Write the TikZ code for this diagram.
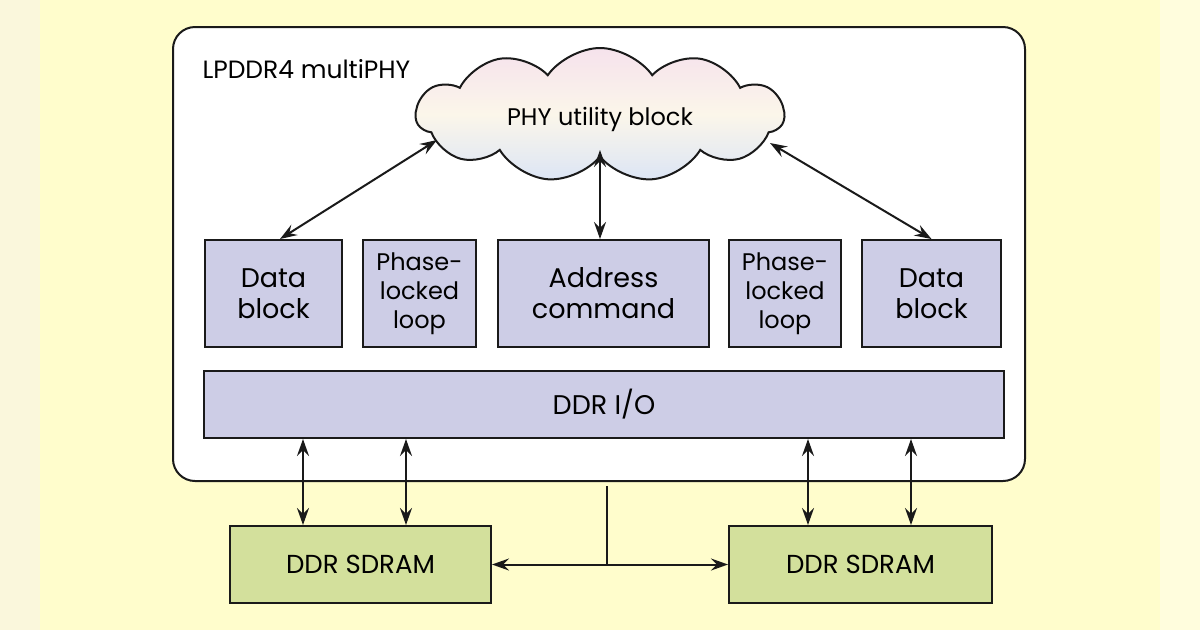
\documentclass[tikz,border=0pt]{standalone}
\usepackage{fontspec}
\setmainfont{Poppins}
\usepackage{tikz}
\usetikzlibrary{arrows.meta,shapes.symbols}
\definecolor{bgc}{HTML}{FFFDCC}
\definecolor{stripc}{HTML}{FAF7DC}
\definecolor{lilac}{HTML}{CDCDE6}
\definecolor{leafc}{HTML}{D3E09C}
\definecolor{inkc}{HTML}{1A1A1A}
\definecolor{cloudtop}{HTML}{F6E2EC}
\definecolor{cloudmid}{HTML}{FBF6EA}
\definecolor{cloudbot}{HTML}{DCE5F5}
\tikzset{
  dar/.style={{Stealth[length=17pt,width=12pt,inset=6pt]}-{Stealth[length=17pt,width=12pt,inset=6pt]},line width=2pt,inkc},
  blk/.style={draw=inkc,line width=2pt,fill=lilac,align=center,inner sep=0pt,font=\fontsize{27}{31}\selectfont},
  pll/.style={blk,font=\fontsize{24}{29}\selectfont},
  mem/.style={draw=inkc,line width=2pt,fill=leafc,inner sep=0pt,font=\fontsize{26}{31}\selectfont}
}
\begin{document}
\begin{tikzpicture}[x=1pt,y=-1pt]
\useasboundingbox (0,0) rectangle (1200,630);
\fill[bgc] (0,0) rectangle (1200,630);
\fill[stripc] (0,0) rectangle (40,630);
\fill[white,opacity=0.35] (1160,0) rectangle (1200,630);
% outer PHY frame
\draw[inkc,line width=2pt,fill=white,rounded corners=22pt] (173,27) rectangle (1025,481);
\node[anchor=west,font=\fontsize{25}{29}\selectfont] (title) at (199,69) {LPDDR4 multiPHY};
\node[cloud,cloud puffs=11,cloud puff arc=110,aspect=2.8,minimum width=368pt,minimum height=134pt,
  draw=inkc,line width=2pt,top color=cloudtop,bottom color=cloudbot,middle color=cloudmid,
  text height=22pt,text depth=1pt,font=\fontsize{24}{28}\selectfont] (phy) at (600,115) {PHY utility block};
% blocks row
\node[blk,minimum width=137pt,minimum height=107pt] (db1) at (273.5,293.5) {Data\\block};
\node[pll,minimum width=113pt,minimum height=107pt] (pll1) at (419.5,293.5) {Phase-\\locked\\loop};
\node[blk,minimum width=211pt,minimum height=107pt] (ac) at (603.5,293.5) {Address\\command};
\node[pll,minimum width=112pt,minimum height=107pt] (pll2) at (785,293.5) {Phase-\\locked\\loop};
\node[blk,minimum width=139pt,minimum height=107pt] (db2) at (931.5,293.5) {Data\\block};
\node[blk,minimum width=800pt,minimum height=67pt] (io) at (604,404.5) {DDR I/O};
% memories
\node[mem,minimum width=261pt,minimum height=77pt] (sdl) at (360.5,564.5) {DDR SDRAM};
\node[mem,minimum width=263pt,minimum height=77pt] (sdr) at (860.5,564.5) {DDR SDRAM};
% links to the cloud
\coordinate (phyL) at (437,140);
\coordinate (phyM) at (600,150);
\coordinate (phyR) at (770,143);
\coordinate (tap) at (607,486);
\draw[dar] (phyL) -- (db1.north -| 280,0);
\draw[dar] (phyM) -- (ac.north -| 600,0);
\draw[dar] (phyR) -- (db2.north);
\foreach \px in {303,406} \draw[dar] (\px,0 |- io.south) -- (\px,0 |- sdl.north);
\foreach \px in {808,911} \draw[dar] (\px,0 |- io.south) -- (\px,0 |- sdr.north);
\draw[dar] (sdl.east) -- (sdr.west);
\draw[inkc,line width=2pt] (tap) -- (tap |- sdl.east);
\end{tikzpicture}
\end{document}
